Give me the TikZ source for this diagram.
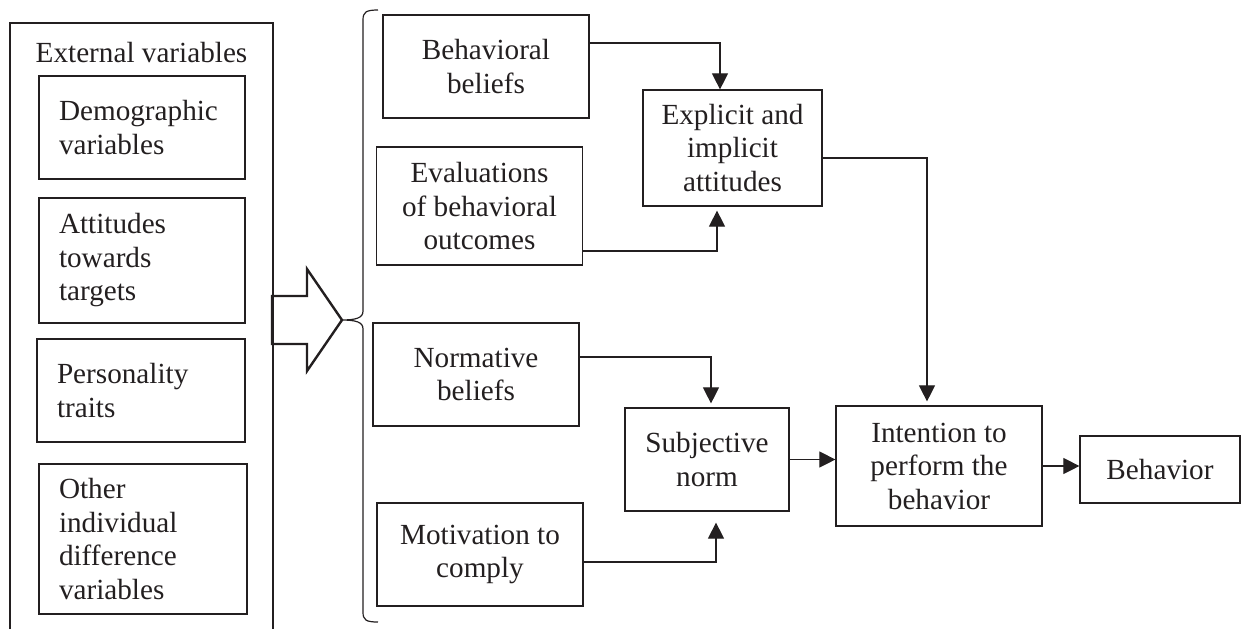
\documentclass[tikz,border=0pt]{standalone}
\usepackage{fontspec}
\setmainfont{Liberation Serif}
\usetikzlibrary{arrows.meta}

\definecolor{ink}{RGB}{35,31,32}

\tikzset{
  box/.style={draw=ink, line width=0.6pt, text=ink, inner sep=0pt,
    minimum width=103pt, minimum height=51.5pt},
  lbox/.style={box, align=left, text width=83pt, inner xsep=10pt},
  cbox/.style={box, align=center},
  link/.style={draw=ink, line width=0.55pt, -{Triangle[length=8pt,width=8pt]}}
}

\begin{document}
\begin{tikzpicture}[x=0.5pt, y=-0.5pt, font=\fontsize{14.6pt}{16.75pt}\selectfont]
      \useasboundingbox (0,0) rectangle (1243,629);

      % external variables
      \draw[ink, line width=0.6pt] (10,629) -- (10,23) -- (273,23) -- (273,629);
      \node[text=ink, anchor=base] (ext) at (141.5,62) {External variables};
      \node[lbox] (demo) at (142,127.5) {Demographic\\variables};
      \node[lbox, minimum height=62.5pt] (targ) at (142,260.5) {Attitudes\\towards\\targets};
      \node[lbox, text width=84pt] (pers) at (141,390.5) {Personality\\traits};
      \node[lbox, text width=84pt, minimum height=75pt] (other) at (143,539)
        {Other\\individual\\difference\\variables};

      % block arrow and brace
      \draw[ink, line width=1.2pt, line join=miter]
        (272,296) -- (307,296) -- (307,269) -- (342,320) -- (307,371) -- (307,344) -- (272,344) -- cycle;
      \draw[ink, line width=0.6pt]
        (378,10) .. controls (366,10) and (363,12) .. (363,20) -- (363,311)
        .. controls (363,318) and (356,320) .. (341,320)
        .. controls (356,320) and (363,322) .. (363,329) -- (363,612)
        .. controls (363,620) and (366,622) .. (378,622);

      % beliefs
      \node[cbox] (bb) at (486,66.5) {Behavioral\\beliefs};
      \node[cbox, minimum height=59pt] (eval) at (479.5,206) {Evaluations\\of behavioral\\outcomes};
      \node[cbox] (nb) at (476,374.5) {Normative\\beliefs};
      \node[cbox] (mot) at (480,554.5) {Motivation to\\comply};

      \node[cbox, minimum width=89.5pt, minimum height=58pt] (att) at (732.5,148)
        {Explicit and\\implicit\\attitudes};
      \node[cbox, minimum width=82pt] (sn) at (707,459.5) {Subjective\\norm};
      \node[cbox, minimum height=60pt] (int) at (939,466) {Intention to\\perform the\\behavior};
      \node[cbox, minimum width=80pt, minimum height=33.5pt] (beh) at (1160,469.5) {Behavior};

      \begin{scope}[link]
        \draw ([yshift=11.75pt]bb.east) -| ([xshift=-6.25pt]att.north);
        \draw ([yshift=-22.5pt]eval.east) -| ([xshift=-7.75pt,yshift=-2pt]att.south);
        \draw ([yshift=-5pt]att.east) -| ([xshift=-6pt,yshift=2pt]int.north);
        \draw ([yshift=8.75pt]nb.east) -| ([xshift=2pt,yshift=2pt]sn.north);
        \draw ([yshift=-3.75pt]mot.east) -| ([xshift=4.5pt,yshift=-5.5pt]sn.south);
        \draw (sn.east) -- (sn.east -| int.west);
        \draw (int.east) -- (int.east -| beh.west);
      \end{scope}
\end{tikzpicture}
\end{document}
